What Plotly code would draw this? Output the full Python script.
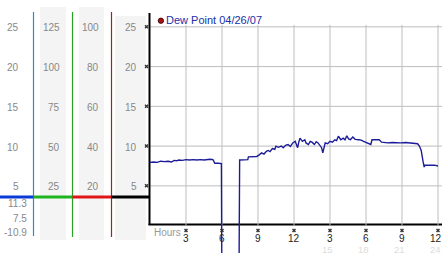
import plotly.graph_objects as go

W, H = 442, 253
PX_PER_H = 12.0
X0_PX = 150.0          # pixel of hour 0
Y0_PX = 225.6          # pixel of value 0
PX_PER_V = 7.95

# ---------------- data ----------------
hours = [0.0, 0.3, 0.6, 0.9, 1.2, 1.5, 1.8, 2.0, 2.2, 2.4, 2.7, 3.0, 3.3, 3.6, 3.9, 4.2,
         4.5, 4.8, 5.0, 5.25, 5.4, 5.7, 5.95, 6.0, 7.4, 7.47, 7.8, 8.15, 8.2, 8.6, 8.9,
         9.1, 9.3, 9.5, 9.7, 9.85, 10.0, 10.2, 10.4, 10.5, 10.7, 10.95, 11.1, 11.3, 11.5,
         11.7, 11.9, 12.1, 12.2, 12.3, 12.4, 12.5, 12.7, 12.9, 13.0, 13.2, 13.35, 13.5,
         13.7, 13.85, 14.0, 14.15, 14.3, 14.4, 14.5, 14.6, 14.8, 15.0, 15.2, 15.4, 15.55,
         15.7, 15.9, 16.1, 16.25, 16.4, 16.55, 16.7, 16.9, 17.1, 17.4, 17.6, 17.8, 18.0,
         18.2, 18.4, 18.5, 18.8, 19.1, 19.3, 19.5, 19.8, 20.2, 20.5, 20.9, 21.3, 21.7,
         22.1, 22.3, 22.45, 22.6, 22.75, 22.85, 22.9, 23.3, 23.7, 24.0]
dew_point = [7.95, 8.0, 7.95, 8.1, 8.05, 8.1, 8.0, 8.2, 8.15, 8.25, 8.2, 8.3, 8.25, 8.3,
             8.25, 8.3, 8.25, 8.35, 8.35, 8.3, 7.85, 7.85, 7.8, -10.9, -10.9, 8.25, 8.25,
             8.3, 8.65, 8.7, 8.7, 8.9, 9.15, 9.0, 9.35, 9.45, 9.3, 9.7, 9.6, 10.0, 9.85,
             10.0, 9.8, 10.1, 10.2, 9.95, 10.4, 10.6, 10.2, 9.8, 10.5, 11.0, 10.6, 10.8,
             10.4, 10.2, 10.6, 10.5, 10.2, 10.55, 10.4, 10.1, 9.8, 9.15, 10.0, 10.4, 10.3,
             10.6, 10.5, 10.8, 10.7, 11.25, 10.8, 11.0, 10.8, 11.3, 10.9, 10.8, 11.15,
             10.85, 10.8, 10.75, 10.6, 10.45, 10.25, 10.2, 10.8, 10.8, 10.8, 10.5, 10.45,
             10.4, 10.45, 10.4, 10.4, 10.45, 10.4, 10.4, 10.3, 10.0, 9.45, 8.1, 7.35, 7.6,
             7.6, 7.6, 7.5]

y_ticks = [5, 10, 15, 20, 25]
x_tickvals = [3, 6, 9, 12, 15, 18, 21, 24]
x_ticktext = ["3", "6", "9", "12", "3", "6", "9", "12"]
x_sub_vals = [15, 18, 21, 24]
x_sub_text = ["15", "18", "21", "24"]

col1_labels = ["5", "10", "15", "20", "25"]
col2_labels = ["25", "50", "75", "100", "125"]
col3_labels = ["20", "40", "60", "80", "100"]
col4_labels = ["5", "10", "15", "20", "25"]
stat_labels = ["11.3", "7.5", "-10.9"]   # max, current, min
legend_text = "Dew Point 04/26/07"

# ---------------- helpers ----------------
def fx(p):
    return p / W

def fy(p):
    return 1 - p / H

def v_of(py):
    return (Y0_PX - py) / PX_PER_V

def h_of(px):
    return (px - X0_PX) / PX_PER_H

x_range = [h_of(0), h_of(W)]
y_range = [v_of(H), v_of(0)]

FONT = "Liberation Sans, Arial, sans-serif"

fig = go.Figure()

# main dew point line
fig.add_trace(go.Scatter(x=hours, y=dew_point, mode="lines",
                         line=dict(color="#1c1c9a", width=1.4),
                         hoverinfo="skip", showlegend=False))

# small "x" tick marks on y axis and x axis
fig.add_trace(go.Scatter(x=[h_of(146.5)] * len(y_ticks), y=y_ticks, mode="markers",
                         marker=dict(symbol="x", size=3.5, color="#333"),
                         cliponaxis=False, showlegend=False, hoverinfo="skip"))
fig.add_trace(go.Scatter(x=x_tickvals, y=[v_of(230.5)] * len(x_tickvals), mode="markers",
                         marker=dict(symbol="x", size=3.5, color="#333"),
                         cliponaxis=False, showlegend=False, hoverinfo="skip"))

shapes = []
# gray bands in left panel
for (a, b, t, bot) in [(40, 66, 7, 240), (79, 104, 7, 240), (115, 146, 16, 240)]:
    shapes.append(dict(type="rect", xref="paper", yref="paper", x0=fx(a), x1=fx(b),
                       y0=fy(bot), y1=fy(t), fillcolor="#f4f4f4", line=dict(width=0),
                       layer="below"))
# gridlines
for v in y_ticks:
    shapes.append(dict(type="line", xref="paper", yref="y", x0=fx(149), x1=1, y0=v, y1=v,
                       line=dict(color="#bdbdbd", width=1), layer="below"))
for h in x_tickvals:
    shapes.append(dict(type="line", xref="x", yref="y", x0=h, x1=h, y0=0, y1=v_of(25),
                       line=dict(color="#bdbdbd", width=1), layer="below"))
# colored vertical lines of left panel
for (x, col, b) in [(33.5, "#2590cc", 236), (72.5, "#2aa02a", 237), (111.5, "#b01a1a", 237)]:
    shapes.append(dict(type="line", xref="paper", yref="paper", x0=fx(x), x1=fx(x),
                       y0=fy(b), y1=fy(12), line=dict(color=col, width=1.2), layer="below"))
# colored horizontal bar
for (a, b, col) in [(0, 33.5, "#0a3ad8"), (33.5, 72.5, "#1db41d"), (72.5, 111.5, "#e01515"),
                    (111.5, 149, "#000000")]:
    shapes.append(dict(type="line", xref="paper", yref="paper", x0=fx(a), x1=fx(b),
                       y0=fy(197), y1=fy(197), line=dict(color=col, width=3), layer="below"))
# main axes lines
shapes.append(dict(type="line", xref="paper", yref="paper", x0=fx(149.5), x1=fx(149.5),
                   y0=fy(225), y1=fy(13), line=dict(color="#000", width=2), layer="below"))
shapes.append(dict(type="line", xref="paper", yref="paper", x0=fx(148.5), x1=1,
                   y0=fy(224.5), y1=fy(224.5), line=dict(color="#000", width=2), layer="below"))
# legend marker
shapes.append(dict(type="circle", xref="paper", yref="paper", x0=fx(158.2), x1=fx(163.6),
                   y0=fy(23.4), y1=fy(18.0), fillcolor="#a81010",
                   line=dict(color="#300", width=0.8)))

ann = []
def label(text, xr, y, yref="y", color="#888", size=10, anchor="right"):
    ann.append(dict(text=text, xref="paper", yref=yref, x=fx(xr), y=y, xanchor=anchor,
                    yanchor="middle", showarrow=False, borderpad=0,
                    font=dict(family=FONT, size=size, color=color)))

for lab, v in zip(col1_labels, y_ticks):
    label(lab, 19.5, v - 0.12)
for lab, v in zip(col2_labels, y_ticks):
    label(lab, 60.5, v - 0.12)
for lab, v in zip(col3_labels, y_ticks):
    label(lab, 99.5, v - 0.12)
for lab, v in zip(col4_labels, y_ticks):
    label(lab, 137.5, v - 0.12)
for lab, py in zip(stat_labels, [203, 218, 232]):
    label(lab, 27.5, fy(py), yref="paper")

# Hours label
label("Hours", 153, fy(232), yref="paper", color="#999", anchor="left")
# legend text
label(legend_text, 165, fy(20), yref="paper", color="#2030a8", size=11, anchor="left")

# x tick labels (last one nudged inside the frame, as in the reference)
x_label_pos = [h if h < 24 else 23.8 for h in x_tickvals]
for h, t in zip(x_label_pos, x_ticktext):
    ann.append(dict(text=t, xref="x", yref="paper", x=h, y=fy(238.7), xanchor="center",
                    yanchor="middle", showarrow=False, borderpad=0,
                    font=dict(family=FONT, size=10, color="#222")))
for h, t in zip(x_sub_vals, x_sub_text):
    ann.append(dict(text=t, xref="x", yref="paper", x=h - 0.2, y=fy(249.3), xanchor="center",
                    yanchor="middle", showarrow=False, borderpad=0,
                    font=dict(family=FONT, size=9.5, color="#dcdcdc")))

fig.update_layout(
    width=W, height=H, margin=dict(l=0, r=0, t=0, b=0),
    paper_bgcolor="white", plot_bgcolor="rgba(0,0,0,0)",
    xaxis=dict(domain=[0, 1], range=x_range, visible=False, fixedrange=True),
    yaxis=dict(domain=[0, 1], range=y_range, visible=False, fixedrange=True),
    shapes=shapes, annotations=ann, showlegend=False,
)

fig.write_html("out.html", config={"displayModeBar": False})
